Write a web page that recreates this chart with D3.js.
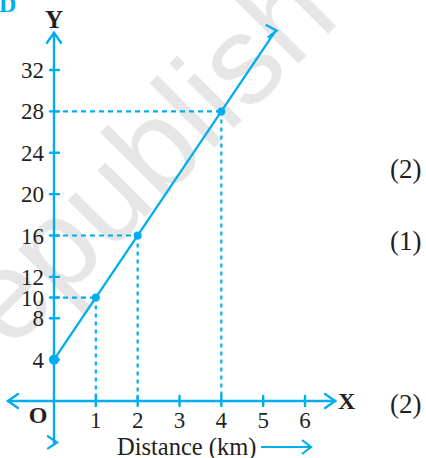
<!DOCTYPE html>
<html>
<head>
<meta charset="utf-8">
<script src="https://cdn.jsdelivr.net/npm/d3@7"></script>
<style>
  html, body { margin: 0; padding: 0; background: #fff; }
  svg { display: block; }
  text { font-family: "Liberation Serif", "Times New Roman", serif; fill: #231f20; }
  text.wm { font-family: "Liberation Sans", Arial, sans-serif; fill: #e6e6e6; }
</style>
</head>
<body>
<svg id="chart" width="426" height="458" font-family="Liberation Serif"></svg>
<script>
// ---- data ----
const distances = [0, 1, 2, 4];          // km
const fares = [4, 10, 16, 28];           // Rs
const lineEnd = [5.3, 35.8];             // where the drawn line stops (arrow tip)
const xTicks = [1, 2, 3, 4, 5, 6];
const yTicks = [4, 8, 10, 12, 16, 20, 24, 28, 32];
const xAxisExtent = [-1.1, 6.72];
const yAxisExtent = [-4.0, 35.6];
const sideLabels = ["(2)", "(1)", "(2)"];
const xLabel = "Distance (km)";

const blue = "#00aeef";
const svg = d3.select("#chart");

const x = d3.scaleLinear().domain([0, 6]).range([54, 305]);
const y = d3.scaleLinear().domain([0, 32]).range([401, 70]);

// watermark
svg.append("text").attr("class", "wm")
  .attr("transform", "translate(10,352) rotate(-45)")
  .style("font-size", "126px")
  .text("epublish");
svg.append("text").attr("class", "wm")
  .attr("transform", "translate(-40,120) rotate(-45)")
  .style("font-size", "126px")
  .text("T");

// corner letter
svg.append("text").attr("x", -1).attr("y", 12)
  .style("font-size", "24px").style("font-weight", "bold").style("fill", blue)
  .text("D");

// dashed guides
const pts = distances.map((d, i) => [d, fares[i]]).filter(p => p[0] > 0);
const guides = svg.append("g").attr("stroke", blue).attr("stroke-width", 2.2).attr("fill", "none");
guides.selectAll(".h").data(pts).join("line")
  .attr("x1", x(0)).attr("x2", d => x(d[0]))
  .attr("y1", d => y(d[1])).attr("y2", d => y(d[1]))
  .attr("stroke-dasharray", "5,4");
guides.selectAll(".v").data(pts).join("line")
  .attr("x1", d => x(d[0])).attr("x2", d => x(d[0]))
  .attr("y1", d => y(d[1])).attr("y2", y(0))
  .attr("stroke-dasharray", "4,4");

// axes lines
const ax = svg.append("g").attr("stroke", blue).attr("stroke-width", 2.4).attr("fill", "none")
  .attr("stroke-linecap", "round").attr("stroke-linejoin", "miter");
ax.append("line").attr("x1", x(xAxisExtent[0])).attr("x2", x(xAxisExtent[1]))
  .attr("y1", y(0)).attr("y2", y(0));
ax.append("line").attr("x1", x(0)).attr("x2", x(0))
  .attr("y1", y(yAxisExtent[1])).attr("y2", y(yAxisExtent[0]));
// arrow heads
const xr = x(xAxisExtent[1]), xl = x(xAxisExtent[0]), yt = y(yAxisExtent[1]), yb = y(yAxisExtent[0]);
ax.append("path").attr("d", `M${xr-10},${y(0)-7}L${xr},${y(0)}L${xr-10},${y(0)+7}`);
ax.append("path").attr("d", `M${xl+10},${y(0)-7}L${xl},${y(0)}L${xl+10},${y(0)+7}`);
ax.append("path").attr("d", `M${x(0)-7},${yt+10}L${x(0)},${yt}L${x(0)+7},${yt+10}`);
ax.append("path").attr("d", `M${x(0)-6},${yb-6}L${x(0)+3},${yb}L${x(0)-6},${yb+6}`);

// ticks
ax.selectAll(".yt").data(yTicks).join("line")
  .attr("x1", x(0) - 4).attr("x2", x(0) + 5)
  .attr("y1", d => y(d)).attr("y2", d => y(d));
ax.selectAll(".xt").data(xTicks).join("line")
  .attr("x1", d => x(d)).attr("x2", d => x(d))
  .attr("y1", y(0) - 5).attr("y2", y(0) + 5);

// tick labels
svg.selectAll(".yl").data(yTicks).join("text")
  .attr("x", x(0) - 10).attr("y", d => y(d) + 8)
  .attr("text-anchor", "end").style("font-size", "23px")
  .text(d => d);
svg.selectAll(".xl").data(xTicks).join("text")
  .attr("x", d => x(d)).attr("y", y(0) + 27)
  .attr("text-anchor", "middle").style("font-size", "23px")
  .text(d => d);

// axis letters
svg.append("text").attr("x", x(0)).attr("y", 28).attr("text-anchor", "middle")
  .style("font-size", "25px").style("font-weight", "bold").text("Y");
svg.append("text").attr("x", xr + 3).attr("y", y(0) + 8)
  .style("font-size", "24px").style("font-weight", "bold").text("X");
svg.append("text").attr("x", x(0) - 16).attr("y", y(0) + 22).attr("text-anchor", "middle")
  .style("font-size", "24px").style("font-weight", "bold").text("O");

// x label with arrow
svg.append("text").attr("x", 117).attr("y", 455)
  .style("font-size", "24.5px").text(xLabel);
const la = svg.append("g").attr("stroke", blue).attr("stroke-width", 2.2).attr("fill", "none");
la.append("line").attr("x1", 261).attr("x2", 311).attr("y1", 447).attr("y2", 447);
la.append("path").attr("d", "M302,440L311,447L302,454");

// main line
const line = d3.line().x(d => x(d[0])).y(d => y(d[1]));
svg.append("path").datum([[distances[0], fares[0]], lineEnd])
  .attr("d", line).attr("stroke", blue).attr("stroke-width", 2.3).attr("fill", "none");
const ex = x(lineEnd[0]), ey = y(lineEnd[1]);
svg.append("path").attr("d", `M${ex-10},${ey-6}L${ex+1},${ey}L${ex-8},${ey+7}`)
  .attr("stroke", blue).attr("stroke-width", 2.2).attr("fill", "none");

// points
svg.selectAll(".pt").data(distances.map((d, i) => [d, fares[i]])).join("circle")
  .attr("cx", d => x(d[0])).attr("cy", d => y(d[1]))
  .attr("r", (d, i) => i === 0 ? 5 : 4).attr("fill", blue);

// side labels
svg.selectAll(".sl").data(sideLabels).join("text")
  .attr("x", 390).attr("y", (d, i) => [178, 250, 413][i])
  .style("font-size", "27px").text(d => d);
</script>
</body>
</html>
